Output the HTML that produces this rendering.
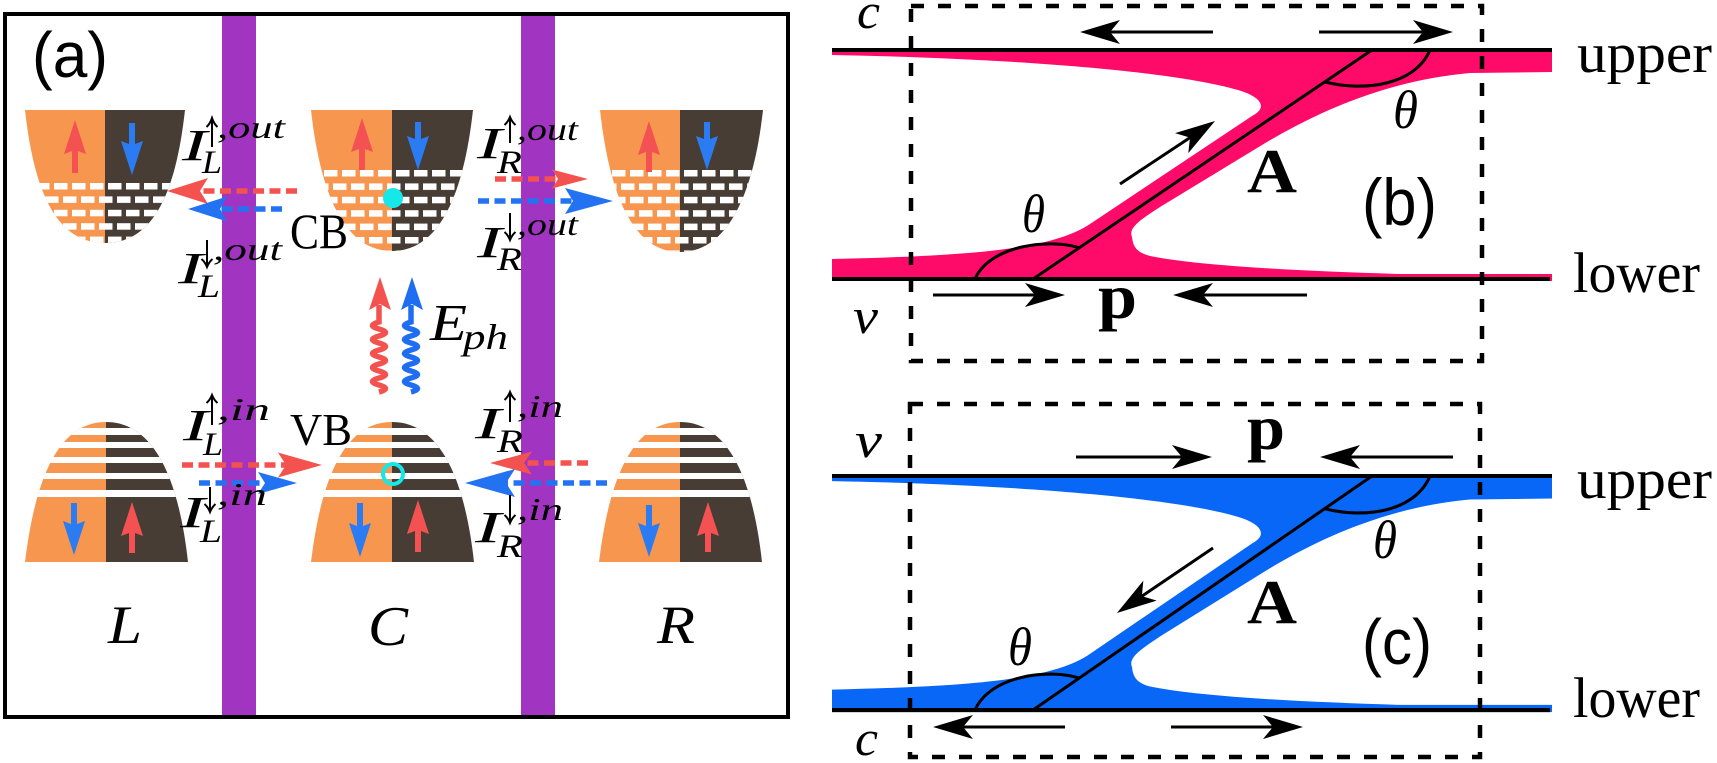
<!DOCTYPE html>
<html><head><meta charset="utf-8"><style>
html,body{margin:0;padding:0;background:#fff;}
svg{display:block;}
.mi{font-family:"Liberation Serif","DejaVu Serif",serif;font-style:italic;fill:#000;}
.rm{font-family:"Liberation Serif","DejaVu Serif",serif;fill:#000;}
.bf{font-family:"Liberation Serif","DejaVu Serif",serif;font-weight:bold;fill:#000;}
.sf{font-family:"Liberation Sans","DejaVu Sans",sans-serif;fill:#000;}
</style></head><body>
<svg width="1717" height="763" viewBox="0 0 1717 763" xmlns="http://www.w3.org/2000/svg">
<defs>
<pattern id="brA" patternUnits="userSpaceOnUse" x="0" y="170" width="18" height="26.8">
<rect x="0" y="0" width="13.5" height="6.5" fill="#fff"/><rect x="9" y="13.4" width="13.5" height="6.5" fill="#fff"/><rect x="-9" y="13.4" width="13.5" height="6.5" fill="#fff"/>
</pattern>
<pattern id="brB" patternUnits="userSpaceOnUse" x="0" y="183" width="18" height="26.8">
<rect x="0" y="0" width="13.5" height="6.5" fill="#fff"/><rect x="9" y="13.4" width="13.5" height="6.5" fill="#fff"/><rect x="-9" y="13.4" width="13.5" height="6.5" fill="#fff"/>
</pattern>
<clipPath id="cbL"><path d="M25 110 L185 110 C175 200 150 243 105 243 C60 243 35 200 25 110 Z"/></clipPath>
<clipPath id="cbC"><path d="M311 110 L473 110 C463 200 437 251 392 251 C347 251 321 200 311 110 Z"/></clipPath>
<clipPath id="cbR"><path d="M600 110 L763 110 C753 200 725 252 680 252 C635 252 610 200 600 110 Z"/></clipPath>
<clipPath id="vbL"><path d="M25 562 L188 562 C178 472 151 422 106 422 C61 422 36 472 25 562 Z"/></clipPath>
<clipPath id="vbC"><path d="M311 562 L474 562 C464 472 437 422 392 422 C347 422 322 472 311 562 Z"/></clipPath>
<clipPath id="vbR"><path d="M599 562 L762 562 C752 472 725 422 680 422 C635 422 610 472 599 562 Z"/></clipPath>
<marker id="ah" markerUnits="userSpaceOnUse" viewBox="0 -12 40 24" refX="10" refY="0" markerWidth="40" markerHeight="24" orient="auto">
<path d="M40 0 L0 -12 L10 0 L0 12 Z" fill="#000"/>
</marker>
</defs>

<!-- ============ Panel (a) ============ -->
<g clip-path="url(#cbL)">
<rect x="20" y="105" width="85" height="145" fill="#f7964f"/><rect x="105" y="105" width="85" height="145" fill="#483d34"/>
<rect x="20" y="183" width="170" height="70" fill="url(#brB)"/>
</g>
<g clip-path="url(#cbC)">
<rect x="305" y="105" width="87" height="150" fill="#f7964f"/><rect x="392" y="105" width="87" height="150" fill="#483d34"/>
<rect x="305" y="170" width="175" height="90" fill="url(#brA)"/>
</g>
<g clip-path="url(#cbR)">
<rect x="595" y="105" width="85" height="150" fill="#f7964f"/><rect x="680" y="105" width="88" height="150" fill="#483d34"/>
<rect x="595" y="170" width="175" height="90" fill="url(#brA)"/>
</g>
<g clip-path="url(#vbL)">
<rect x="20" y="418" width="86" height="150" fill="#f7964f"/><rect x="106" y="418" width="86" height="150" fill="#483d34"/>
<g fill="#fff"><rect x="20" y="428" width="175" height="7"/><rect x="20" y="442" width="175" height="6"/><rect x="20" y="457" width="175" height="6"/><rect x="20" y="473" width="175" height="6"/><rect x="20" y="490" width="175" height="7"/></g>
</g>
<g clip-path="url(#vbC)">
<rect x="305" y="418" width="87" height="150" fill="#f7964f"/><rect x="392" y="418" width="87" height="150" fill="#483d34"/>
<g fill="#fff"><rect x="305" y="428" width="175" height="7"/><rect x="305" y="442" width="175" height="6"/><rect x="305" y="457" width="175" height="6"/><rect x="305" y="473" width="175" height="6"/><rect x="305" y="490" width="175" height="7"/></g>
</g>
<g clip-path="url(#vbR)">
<rect x="595" y="418" width="85" height="150" fill="#f7964f"/><rect x="680" y="418" width="88" height="150" fill="#483d34"/>
<g fill="#fff"><rect x="595" y="428" width="175" height="7"/><rect x="595" y="442" width="175" height="6"/><rect x="595" y="457" width="175" height="6"/><rect x="595" y="473" width="175" height="6"/><rect x="595" y="490" width="175" height="7"/></g>
</g>

<g fill="#f45252">
<polygon points="75,120 86,154 78,151 78,173 72,173 72,151 64,154"/>
<polygon points="362,118 373,152 365,149 365,170 359,170 359,149 351,152"/>
<polygon points="649,121 660,155 652,152 652,172 646,172 646,152 638,155"/>
<polygon points="132,502 143,536 135,533 135,553 129,553 129,533 121,536"/>
<polygon points="418,500 429,534 421,531 421,552 415,552 415,531 407,534"/>
<polygon points="708,502 719,536 711,533 711,552 705,552 705,533 697,536"/>
</g>
<g fill="#2b7cf2">
<polygon points="132,175 143,141 135,144 135,123 129,123 129,144 121,141"/>
<polygon points="418,170 429,136 421,139 421,122 415,122 415,139 407,136"/>
<polygon points="707,170 718,136 710,139 710,122 704,122 704,139 696,136"/>
<polygon points="74,555 85,521 77,524 77,503 71,503 71,524 63,521"/>
<polygon points="360,557 371,523 363,526 363,503 357,503 357,526 349,523"/>
<polygon points="649,557 660,523 652,526 652,505 646,505 646,526 638,523"/>
</g>

<circle cx="393" cy="198" r="10" fill="#16e8ea"/>
<circle cx="393" cy="474" r="10" fill="none" stroke="#16e8ea" stroke-width="4"/>

<rect x="222" y="16" width="34" height="700" fill="#a134c1"/>
<rect x="521" y="16" width="34" height="700" fill="#a134c1"/>

<rect x="5" y="14" width="783" height="703" fill="none" stroke="#000" stroke-width="4"/>

<g stroke-width="5.5" stroke-dasharray="11 5.5" fill="none">
<line x1="297" y1="191" x2="200" y2="191" stroke="#f4524f"/>
<line x1="282" y1="209" x2="220" y2="209" stroke="#2272f2"/>
<line x1="495" y1="179" x2="558" y2="179" stroke="#f4524f"/>
<line x1="478" y1="201" x2="573" y2="201" stroke="#2272f2"/>
<line x1="182" y1="465" x2="286" y2="465" stroke="#f4524f"/>
<line x1="199" y1="483" x2="265" y2="483" stroke="#2272f2"/>
<line x1="588" y1="463" x2="524" y2="463" stroke="#f4524f"/>
<line x1="607" y1="483" x2="506" y2="483" stroke="#2272f2"/>
</g>
<g fill="#f4524f">
<polygon points="167,191 208,178 200,191 208,204"/>
<polygon points="588,179 552,169.5 558,179 552,188.5"/>
<polygon points="322,465 278,452.5 286,465 278,477.5"/>
<polygon points="490,463 532,451.5 524,463 532,474.5"/>
</g>
<g fill="#2272f2">
<polygon points="188,209 227,196.5 220,209 227,221.5"/>
<polygon points="613,201 565,188 573,201 565,214"/>
<polygon points="297,483 258,472 265,483 258,494"/>
<polygon points="465,483 515,469 506,483 515,497"/>
</g>

<path d="M379 392 Q392 388.5 379 385 T379 378 T379 371 T379 364 T379 357 T379 350 T379 343 T379 336 T379 329 T379 322 L379 305" fill="none" stroke="#f4524f" stroke-width="5.5"/>
<polygon points="380,277 391,310 380,304 369,310" fill="#f4524f"/>
<path d="M411 392 Q424 388.5 411 385 T411 378 T411 371 T411 364 T411 357 T411 350 T411 343 T411 336 T411 329 T411 322 L411 305" fill="none" stroke="#1f6ef2" stroke-width="5.5"/>
<polygon points="412,277 423,310 412,304 401,310" fill="#1f6ef2"/>

<text class="sf" font-family="Liberation Sans, sans-serif" x="32" y="77" font-size="64" textLength="76" lengthAdjust="spacingAndGlyphs">(a)</text>

<g stroke="#000" stroke-width="2" fill="none">
<path d="M212 147 L212 119 M206.5 127 Q210 124 212 118 Q214 124 217.5 127"/>
<path d="M207 240 L207 266 M201.5 259 Q205 262 207 267 Q209 262 212.5 259"/>
<path d="M510 143 L510 118 M504.5 125 Q508 122 510 117 Q512 122 515.5 125"/>
<path d="M510 213 L510 239 M504.5 232 Q508 235 510 240 Q512 235 515.5 232"/>
<path d="M212 425 L212 396 M206.5 403 Q210 400 212 395 Q214 400 217.5 403"/>
<path d="M210 487 L210 511 M204.5 504 Q208 507 210 512 Q212 507 215.5 504"/>
<path d="M510 422 L510 393 M504.5 400 Q508 397 510 392 Q512 397 515.5 400"/>
<path d="M510 495 L510 522 M504.5 515 Q508 518 510 523 Q512 518 515.5 515"/>
</g>

<g class="mi" font-family="Liberation Serif, serif" font-style="italic">
<text x="182" y="160" font-size="44" textLength="25" lengthAdjust="spacingAndGlyphs">I</text>
<text x="217" y="138" font-size="32" textLength="68" lengthAdjust="spacingAndGlyphs">,out</text>
<text x="202" y="173" font-size="33" textLength="20" lengthAdjust="spacingAndGlyphs">L</text>

<text x="178" y="283" font-size="44" textLength="25" lengthAdjust="spacingAndGlyphs">I</text>
<text x="213" y="260" font-size="32" textLength="69" lengthAdjust="spacingAndGlyphs">,out</text>
<text x="198" y="297" font-size="33" textLength="22" lengthAdjust="spacingAndGlyphs">L</text>

<text x="477" y="158" font-size="44" textLength="25" lengthAdjust="spacingAndGlyphs">I</text>
<text x="517" y="140" font-size="32" textLength="61" lengthAdjust="spacingAndGlyphs">,out</text>
<text x="497" y="173" font-size="33" textLength="25" lengthAdjust="spacingAndGlyphs">R</text>

<text x="477" y="257" font-size="44" textLength="25" lengthAdjust="spacingAndGlyphs">I</text>
<text x="517" y="235" font-size="32" textLength="61" lengthAdjust="spacingAndGlyphs">,out</text>
<text x="497" y="270" font-size="33" textLength="25" lengthAdjust="spacingAndGlyphs">R</text>

<text x="183" y="440" font-size="44" textLength="25" lengthAdjust="spacingAndGlyphs">I</text>
<text x="217" y="420" font-size="32" textLength="53" lengthAdjust="spacingAndGlyphs">,in</text>
<text x="203" y="455" font-size="33" textLength="20" lengthAdjust="spacingAndGlyphs">L</text>

<text x="180" y="527" font-size="44" textLength="25" lengthAdjust="spacingAndGlyphs">I</text>
<text x="217" y="505" font-size="32" textLength="50" lengthAdjust="spacingAndGlyphs">,in</text>
<text x="200" y="542" font-size="33" textLength="22" lengthAdjust="spacingAndGlyphs">L</text>

<text x="475" y="438" font-size="44" textLength="26" lengthAdjust="spacingAndGlyphs">I</text>
<text x="517" y="417" font-size="32" textLength="46" lengthAdjust="spacingAndGlyphs">,in</text>
<text x="497" y="452" font-size="33" textLength="26" lengthAdjust="spacingAndGlyphs">R</text>

<text x="475" y="542" font-size="44" textLength="26" lengthAdjust="spacingAndGlyphs">I</text>
<text x="517" y="520" font-size="32" textLength="46" lengthAdjust="spacingAndGlyphs">,in</text>
<text x="497" y="557" font-size="33" textLength="26" lengthAdjust="spacingAndGlyphs">R</text>

<text x="430" y="340" font-size="52" textLength="37" lengthAdjust="spacingAndGlyphs">E</text>
<text x="463" y="349" font-size="36" textLength="45" lengthAdjust="spacingAndGlyphs">ph</text>

<text x="108" y="643" font-size="54" textLength="34" lengthAdjust="spacingAndGlyphs">L</text>
<text x="368" y="645" font-size="56" textLength="40" lengthAdjust="spacingAndGlyphs">C</text>
<text x="657" y="643" font-size="54" textLength="38" lengthAdjust="spacingAndGlyphs">R</text>
</g>
<text class="rm" font-family="Liberation Serif, serif" x="290" y="248" font-size="50" textLength="58" lengthAdjust="spacingAndGlyphs">CB</text>
<text class="rm" font-family="Liberation Serif, serif" x="290" y="445" font-size="46" textLength="62" lengthAdjust="spacingAndGlyphs">VB</text>

<!-- ============ Panel (b) ============ -->
<g>
<rect x="832" y="50" width="720" height="231" fill="#fe0a68"/>
<path d="M832 55 C1000 58 1170 70 1238 90 C1262 97 1268 108 1252 116 L1090 224 C1050 251 960 256 832 259 Z" fill="#fff"/>
<path d="M1132 237 C1128 228 1140 220 1160 207 L1262 145 C1320 110 1390 80 1470 73 L1553 72 L1553 274 L1400 274 C1300 271 1200 266 1150 256 C1135 252 1133 245 1132 237 Z" fill="#fff"/>
<path d="M832 50 H1552 M832 279 H1550" stroke="#000" stroke-width="4" fill="none"/>
<path d="M1033 279 L1372 50" stroke="#000" stroke-width="3" fill="none"/>
<path d="M975 279 C990 245 1050 238 1080 248" stroke="#000" stroke-width="3" fill="none"/>
<path d="M1325 82 C1365 92 1415 85 1430 50" stroke="#000" stroke-width="3" fill="none"/>
</g>
<rect x="911" y="6" width="571" height="355" fill="none" stroke="#000" stroke-width="4.5" stroke-dasharray="13 14"/>
<g stroke="#000" stroke-width="3" marker-end="url(#ah)">
<line x1="1213" y1="32" x2="1110" y2="32"/>
<line x1="1319" y1="32" x2="1423" y2="32"/>
<line x1="933" y1="295" x2="1035" y2="295"/>
<line x1="1307" y1="295" x2="1203" y2="295"/>
<line x1="1120" y1="184" x2="1190" y2="137.6"/>
</g>
<g font-family="Liberation Serif, serif">
<text class="mi" font-style="italic" x="857" y="28" font-size="50" textLength="23" lengthAdjust="spacingAndGlyphs">c</text>
<text class="mi" font-style="italic" x="853" y="333" font-size="50" textLength="25" lengthAdjust="spacingAndGlyphs">v</text>
<text class="bf" font-weight="bold" x="1098" y="318" font-size="64" textLength="39" lengthAdjust="spacingAndGlyphs">p</text>
<text class="bf" font-weight="bold" x="1247" y="192" font-size="62" textLength="50" lengthAdjust="spacingAndGlyphs">A</text>
<text class="mi" font-style="italic" x="1022" y="232" font-size="54" textLength="23" lengthAdjust="spacingAndGlyphs">θ</text>
<text class="mi" font-style="italic" x="1393" y="128" font-size="54" textLength="25" lengthAdjust="spacingAndGlyphs">θ</text>
<text class="rm" x="1577" y="72" font-size="56" textLength="135" lengthAdjust="spacingAndGlyphs">upper</text>
<text class="rm" x="1573" y="292" font-size="57" textLength="127" lengthAdjust="spacingAndGlyphs">lower</text>
</g>
<text class="sf" font-family="Liberation Sans, sans-serif" x="1362" y="225" font-size="66" textLength="75" lengthAdjust="spacingAndGlyphs">(b)</text>

<!-- ============ Panel (c) ============ -->
<g transform="matrix(1 0 0 1.022 0 424.9)">
<rect x="832" y="50" width="720" height="231" fill="#0867f7"/>
<path d="M832 55 C1000 58 1170 70 1238 90 C1262 97 1268 108 1252 116 L1090 224 C1050 251 960 256 832 259 Z" fill="#fff"/>
<path d="M1132 237 C1128 228 1140 220 1160 207 L1262 145 C1320 110 1390 80 1470 73 L1553 72 L1553 274 L1400 274 C1300 271 1200 266 1150 256 C1135 252 1133 245 1132 237 Z" fill="#fff"/>
<path d="M832 50 H1552 M832 279 H1550" stroke="#000" stroke-width="4" fill="none"/>
<path d="M1033 279 L1372 50" stroke="#000" stroke-width="3" fill="none"/>
<path d="M975 279 C990 245 1050 238 1080 248" stroke="#000" stroke-width="3" fill="none"/>
<path d="M1325 82 C1365 92 1415 85 1430 50" stroke="#000" stroke-width="3" fill="none"/>
</g>
<rect x="910" y="404" width="570" height="353" fill="none" stroke="#000" stroke-width="4.5" stroke-dasharray="13 14"/>
<g stroke="#000" stroke-width="3" marker-end="url(#ah)">
<line x1="1076" y1="457" x2="1182" y2="457"/>
<line x1="1453" y1="457" x2="1350" y2="457"/>
<line x1="1065" y1="727" x2="963" y2="727"/>
<line x1="1171" y1="727" x2="1273" y2="727"/>
<line x1="1213" y1="548" x2="1141.8" y2="596.2"/>
</g>
<g font-family="Liberation Serif, serif">
<text class="mi" font-style="italic" x="855" y="457" font-size="50" textLength="27" lengthAdjust="spacingAndGlyphs">v</text>
<text class="mi" font-style="italic" x="855" y="755" font-size="50" textLength="23" lengthAdjust="spacingAndGlyphs">c</text>
<text class="bf" font-weight="bold" x="1247" y="449" font-size="63" textLength="38" lengthAdjust="spacingAndGlyphs">p</text>
<text class="bf" font-weight="bold" x="1247" y="623" font-size="62" textLength="50" lengthAdjust="spacingAndGlyphs">A</text>
<text class="mi" font-style="italic" x="1008" y="665" font-size="54" textLength="24" lengthAdjust="spacingAndGlyphs">θ</text>
<text class="mi" font-style="italic" x="1373" y="558" font-size="54" textLength="24" lengthAdjust="spacingAndGlyphs">θ</text>
<text class="rm" x="1577" y="498" font-size="56" textLength="135" lengthAdjust="spacingAndGlyphs">upper</text>
<text class="rm" x="1573" y="717" font-size="57" textLength="127" lengthAdjust="spacingAndGlyphs">lower</text>
</g>
<text class="sf" font-family="Liberation Sans, sans-serif" x="1362" y="664" font-size="64" textLength="70" lengthAdjust="spacingAndGlyphs">(c)</text>
</svg>
</body></html>
